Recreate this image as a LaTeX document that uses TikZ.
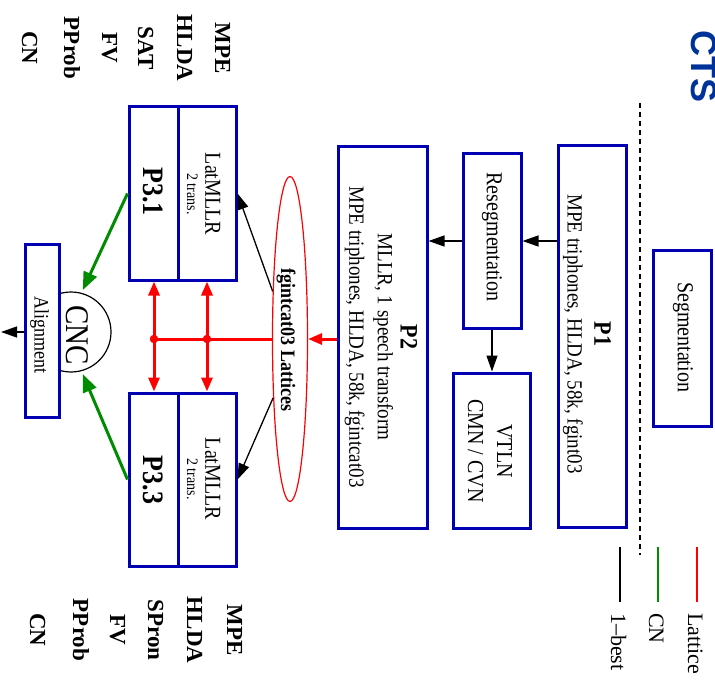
\documentclass[tikz,border=0pt]{standalone}
\usepackage{fontspec}
\setmainfont{Liberation Serif}
\newfontfamily\ctsfont{Liberation Sans}
\usetikzlibrary{arrows.meta,shapes.geometric}
\definecolor{boxblue}{RGB}{0,0,178}
\definecolor{cngreen}{RGB}{0,140,0}
\definecolor{ctsblue}{RGB}{0,51,153}
\newcommand\fsz[2]{\fontsize{#1}{#2}\selectfont}
\begin{document}
\begin{tikzpicture}[x=1pt,y=-1pt,
 box/.style={draw=boxblue,line width=3pt,fill=white,inner sep=0pt},
 txt/.style={rotate=-90,inner sep=0pt,align=center},
 tall/.style={yscale=1.14},
 blk/.style={draw=black,line width=1.3pt,-{Triangle[length=16pt,width=11pt]}},
 grn/.style={draw=cngreen,line width=3pt,-{Triangle[length=18pt,width=14pt]}},
 rd/.style={draw=red,line width=3pt,-{Triangle[length=14pt,width=11pt]}},
 side/.style={rotate=-90,inner sep=0pt,anchor=base,font=\fsz{23}{26}\bfseries},
 legtxt/.style={rotate=-90,inner sep=0pt,anchor=base west,font=\fsz{22}{26}},
 legline/.style={line width=2.5pt},
 dot/.style={circle,draw=red,fill=red,minimum size=8pt,inner sep=0pt}
 ]
\useasboundingbox (0,0) rectangle (715,687);

% title fragment
\node[rotate=-90,anchor=base west,inner sep=0pt,font=\ctsfont\fsz{36}{40}\bfseries,text=ctsblue] (cts) at (691,30) {CTS};

% dashed separator
\coordinate (da) at (640,103);
\coordinate (db) at (640,555);
\draw[line width=1.2pt,dash pattern=on 5pt off 4pt] (da) -- (db);

% segmentation
\node[box,minimum width=58pt,minimum height=175pt] (seg) at (682,338.5) {};
\node[txt,tall,font=\fsz{20}{24}] (segt) at (683,337) {Segmentation};

% P1
\node[box,minimum width=68pt,minimum height=381pt] (p1) at (592,336.5) {};
\node[txt,tall,font=\fsz{19}{23.5}] (p1t) at (587,334) {{\fsz{22}{23.5}\bfseries P1}\\MPE triphones, HLDA, 58k, fgint03};

% Resegmentation
\node[box,minimum width=58pt,minimum height=175pt] (reseg) at (492,241) {};
\node[txt,tall,font=\fsz{20}{24}] (resegt) at (492,237) {Resegmentation};

% VTLN
\node[box,minimum width=77pt,minimum height=155pt] (vtln) at (491.5,450.5) {};
\node[txt,tall,font=\fsz{20}{25.5}] (vtlnt) at (490,451) {VTLN\\CMN / CVN};

% P2
\node[box,minimum width=89pt,minimum height=381pt] (p2) at (382.5,337.5) {};
\node[txt,tall,font=\fsz{19}{20}] (p2t) at (381,337) {{\fsz{22}{20}\bfseries P2}\\MLLR, 1 speech transform\\[5pt]MPE triphones, HLDA, 58k, fgintcat03};

% arrows top
\draw[blk] (p1.west |- reseg.east) -- (reseg.east);
\draw[blk] (reseg.west) -- (p2.east |- reseg.west);
\draw[blk] (reseg.south) -- (vtln.north -| reseg.south);

% lattices ellipse
\node[ellipse,draw=red,line width=1.2pt,minimum width=35pt,minimum height=325pt,inner sep=0pt] (ell) at (290,339) {};
\node[txt,tall,font=\fsz{18}{20}\bfseries] (ellt) at (286,340) {fgintcat03 Lattices};
\draw[rd] (p2.west |- ell.east) -- (ell.east);

% P3.1
\node[box,minimum width=49pt,minimum height=173pt] (p31a) at (153.5,193.5) {};
\node[box,minimum width=58pt,minimum height=173pt] (p31b) at (207,193.5) {};
\node[txt,tall,font=\fsz{26}{28}\bfseries] (p31at) at (153,191.5) {P3.1};
\node[txt,tall,font=\fsz{20}{16}] (p31bt) at (203.5,194) {LatMLLR\\{\fsz{14}{16}2 trans.}};

% P3.3
\node[box,minimum width=49pt,minimum height=173pt] (p33a) at (153.5,479.5) {};
\node[box,minimum width=58pt,minimum height=173pt] (p33b) at (207,479.5) {};
\node[txt,tall,font=\fsz{26}{28}\bfseries] (p33at) at (153,480) {P3.3};
\node[txt,tall,font=\fsz{20}{16}] (p33bt) at (203.5,479) {LatMLLR\\{\fsz{14}{16}2 trans.}};

% black arrows from lattices
\draw[blk] (ell.110) -- (p31b.east);
\draw[blk] (ell.254) -- (p33b.east);

% red distribution
\node[dot] (d1) at (154,339) {};
\node[dot] (d2) at (207,339) {};
\draw[red,line width=3pt] (ell.west) -- (d1.center);
\draw[rd] (d1.center) -- (d1 |- p31a.south);
\draw[rd] (d1.center) -- (d1 |- p33a.north);
\draw[rd] (d2.center) -- (d2 |- p31b.south);
\draw[rd] (d2.center) -- (d2 |- p33b.north);

% CNC and alignment
\node[circle,draw=black,line width=1.2pt,minimum size=80pt,inner sep=0pt] (cnc) at (71,332) {};
\node[box,minimum width=34pt,minimum height=172pt] (align) at (42,331) {};
\node[txt,tall,font=\fsz{18}{20}] (alignt) at (39.5,335) {Alignment};
\node[txt,tall,font=\fsz{29}{30}] (cnct) at (77.5,335) {CNC};
\draw[grn,shorten >=3pt] (p31a.west) -- (cnc.75);
\draw[grn,shorten >=3pt] (p33a.west) -- (cnc.285);
\coordinate (out) at (1,332);
\draw[blk] (align.west |- out) -- (out);

% side labels top
\node[side] (tl1) at (215,48) {MPE};
\node[side] (tl2) at (177,48) {HLDA};
\node[side] (tl3) at (138,48) {SAT};
\node[side] (tl4) at (102,48) {FV};
\node[side] (tl5) at (64,48) {PProb};
\node[side] (tl6) at (22,48) {CN};
% side labels bottom
\node[side] (bl1) at (227,630) {MPE};
\node[side] (bl2) at (187,630) {HLDA};
\node[side] (bl3) at (148,630) {SPron};
\node[side] (bl4) at (110,630) {FV};
\node[side] (bl5) at (73,630) {PProb};
\node[side] (bl6) at (30,630) {CN};

% legend
\coordinate (lra) at (697,547); \coordinate (lrb) at (697,602);
\coordinate (lga) at (658,547); \coordinate (lgb) at (658,602);
\coordinate (lka) at (620,547); \coordinate (lkb) at (620,602);
\draw[legline,red] (lra) -- (lrb);
\draw[legline,cngreen] (lga) -- (lgb);
\draw[legline,black] (lka) -- (lkb);
\node[legtxt] (lrt) at (688,613) {Lattice};
\node[legtxt] (lgt) at (649,613) {CN};
\node[legtxt] (lkt) at (611,613) {1--best};
\end{tikzpicture}
\end{document}
